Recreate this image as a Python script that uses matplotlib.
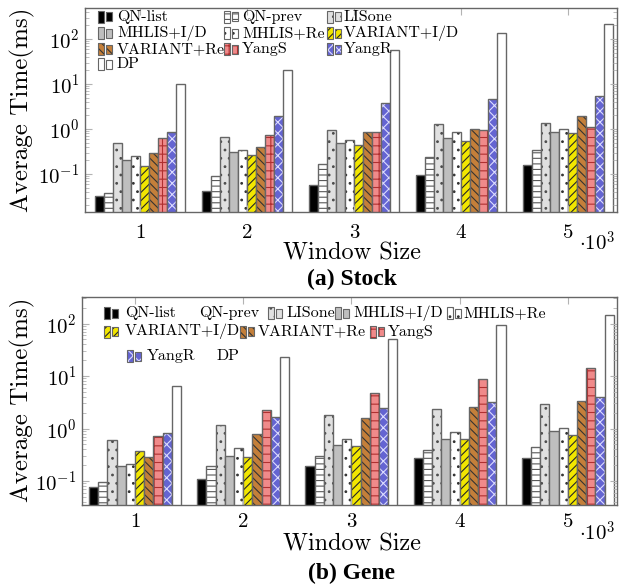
import matplotlib
matplotlib.use("Agg")
import matplotlib.pyplot as plt
import numpy as np
from matplotlib.patches import Rectangle
from matplotlib.ticker import NullFormatter, LogLocator

plt.rcParams["font.family"] = "cmr10"
plt.rcParams["mathtext.fontset"] = "cm"
plt.rcParams["axes.formatter.use_mathtext"] = True
plt.rcParams["hatch.linewidth"] = 0.8

W, H = 627, 587

window_sizes = [1000, 2000, 3000, 4000, 5000]
methods = ["QN-list", "QN-prev", "LISone", "MHLIS+I/D", "MHLIS+Re",
           "VARIANT+I/D", "VARIANT+Re", "YangS", "YangR", "DP"]

# 平均時間 (ms)，每列對應一種方法
stock_times = [
    [0.0325, 0.041, 0.056, 0.095, 0.16],
    [0.037, 0.092, 0.17, 0.24, 0.35],
    [0.48, 0.66, 0.94, 1.31, 1.38],
    [0.205, 0.31, 0.48, 0.64, 0.86],
    [0.25, 0.34, 0.57, 0.85, 1.02],
    [0.15, 0.26, 0.45, 0.53, 0.80],
    [0.29, 0.39, 0.85, 1.0, 1.95],
    [0.63, 0.72, 0.85, 0.95, 1.12],
    [0.86, 1.9, 3.7, 4.6, 5.4],
    [9.8, 20.5, 57, 134, 212],
]
gene_times = [
    [0.076, 0.11, 0.19, 0.27, 0.27],
    [0.097, 0.19, 0.30, 0.39, 0.45],
    [0.61, 1.17, 1.83, 2.4, 2.97],
    [0.195, 0.30, 0.48, 0.64, 0.90],
    [0.21, 0.43, 0.63, 0.87, 1.04],
    [0.37, 0.29, 0.47, 0.63, 0.75],
    [0.29, 0.78, 1.56, 2.57, 3.4],
    [0.71, 2.3, 4.8, 8.9, 14],
    [0.83, 1.63, 2.5, 3.2, 4.0],
    [6.5, 23, 50, 92, 147],
]

# (face, hatch, hatch color)
styles = [
    ("black", None, "black"),
    ("white", "---", "0.35"),
    ("0.88", "..", "0.3"),
    ("0.75", None, "0.5"),
    ("white", "..", "0.2"),
    ("#f2e600", "////", "0.15"),
    ("#c47f3a", "\\\\\\\\", "0.2"),
    ("#f08a8a", "++", "#b03030"),
    ("#6464d2", "xxx", "#dcdcff"),
    ("white", None, "white"),
]
EDGE = "0.4"
BAR_W = 85


def px(x, y):
    return x / W, 1 - y / H


def draw_bars(ax, data):
    x = np.array(window_sizes, dtype=float)
    for i, vals in enumerate(data):
        face, hatch, hc = styles[i]
        xi = x + (i - 4.5) * BAR_W
        ax.bar(xi, np.array(vals) - 1e-4, BAR_W, bottom=1e-4, color=face,
               hatch=hatch, edgecolor=hc, linewidth=0)
        ax.bar(xi, np.array(vals) - 1e-4, BAR_W, bottom=1e-4, fill=False,
               edgecolor=EDGE, linewidth=1.0)


def style_axes(ax, ylim, xlim, pad):
    ax.set_yscale("log")
    ax.set_ylim(*ylim)
    ax.set_xlim(*xlim)
    ax.set_xticks(window_sizes)
    ax.set_xticklabels(["1", "2", "3", "4", "5"], fontsize=15)
    ax.yaxis.set_major_locator(LogLocator(base=10, numticks=10))
    ax.yaxis.set_minor_locator(LogLocator(base=10, subs=np.arange(2, 10), numticks=20))
    ax.yaxis.set_minor_formatter(NullFormatter())
    ax.tick_params(axis="y", which="major", labelsize=15, pad=4)
    ax.tick_params(axis="x", which="major", pad=pad)
    ax.tick_params(which="both", direction="in", top=True, right=True, color="0.7")
    ax.tick_params(which="major", length=5)
    ax.tick_params(which="minor", length=3)
    for s in ax.spines.values():
        s.set_color("0.4")
        s.set_linewidth(1.0)


def legend_entry(fig, i, patch_x, text_x, y):
    face, hatch, hc = styles[i]
    if patch_x is not None:
        for dx, h, w in [(0, 12, 6), (8, 9, 6)]:
            x0, y0 = px(patch_x + dx, y + h / 2)
            rw, rh = w / W, h / H
            fig.add_artist(Rectangle((x0, y0), rw, rh, transform=fig.transFigure,
                                     facecolor=face, hatch=hatch, edgecolor=hc,
                                     linewidth=0))
            fig.add_artist(Rectangle((x0, y0), rw, rh, transform=fig.transFigure,
                                     fill=False, edgecolor=EDGE, linewidth=0.8))
    tx, ty = px(text_x, y)
    fig.text(tx, ty, methods[i], fontsize=11.5, va="center", ha="left")


fig = plt.figure(figsize=(6.27, 5.87), dpi=100)

ax1 = fig.add_axes([85 / W, 1 - 212 / H, 532 / W, 204 / H])
draw_bars(ax1, stock_times)
style_axes(ax1, (0.0143, 489), (486, 5458), 9)

ax2 = fig.add_axes([82 / W, 1 - 505 / H, 535 / W, 208 / H])
draw_bars(ax2, gene_times)
style_axes(ax2, (0.035, 320), (510, 5454), 6)

# 圖 (a) 圖例：三欄
cols = [(98, 117), (224, 242), (327, 344)]
rows = [16.7, 33.3, 49.3, 64.3]
for i in range(len(methods)):
    r, c = divmod(i, 3)
    legend_entry(fig, i, cols[c][0], cols[c][1], rows[r])

# 圖 (b) 圖例
gene_legend = [
    (0, 104, 125, 313.3), (1, None, 199, 313.3), (2, 268, 287, 313.3),
    (3, 335, 353, 313.3), (4, 447, 463, 313.3),
    (5, 104, 125, 331.7), (6, 240, 258, 331.7), (7, 370, 388, 331.7),
    (8, 127, 147, 356), (9, None, 217, 356),
]
for i, pxx, tx, y in gene_legend:
    legend_entry(fig, i, pxx, tx, y)

for yc in [110, 400]:
    fx, fy = px(22, yc)
    fig.text(fx, fy, "Average Time(ms)", fontsize=18, rotation=90,
             ha="center", va="center")

fx, fy = px(352, 253)
fig.text(fx, fy, "Window Size", fontsize=17.5, ha="center", va="center")
fx, fy = px(352, 544)
fig.text(fx, fy, "Window Size", fontsize=17.5, ha="center", va="center")

fx, fy = px(352, 279)
fig.text(fx, fy, "(a) Stock", fontsize=17, fontweight="bold",
         family="Liberation Serif", ha="center", va="center")
fx, fy = px(352, 573)
fig.text(fx, fy, "(b) Gene", fontsize=17, fontweight="bold",
         family="Liberation Serif", ha="center", va="center")

for y in [243, 533]:
    fx, fy = px(597, y)
    fig.text(fx, fy, r"$\cdot10^3$", fontsize=15, ha="center", va="center")

fig.savefig("out.png", dpi=100)
